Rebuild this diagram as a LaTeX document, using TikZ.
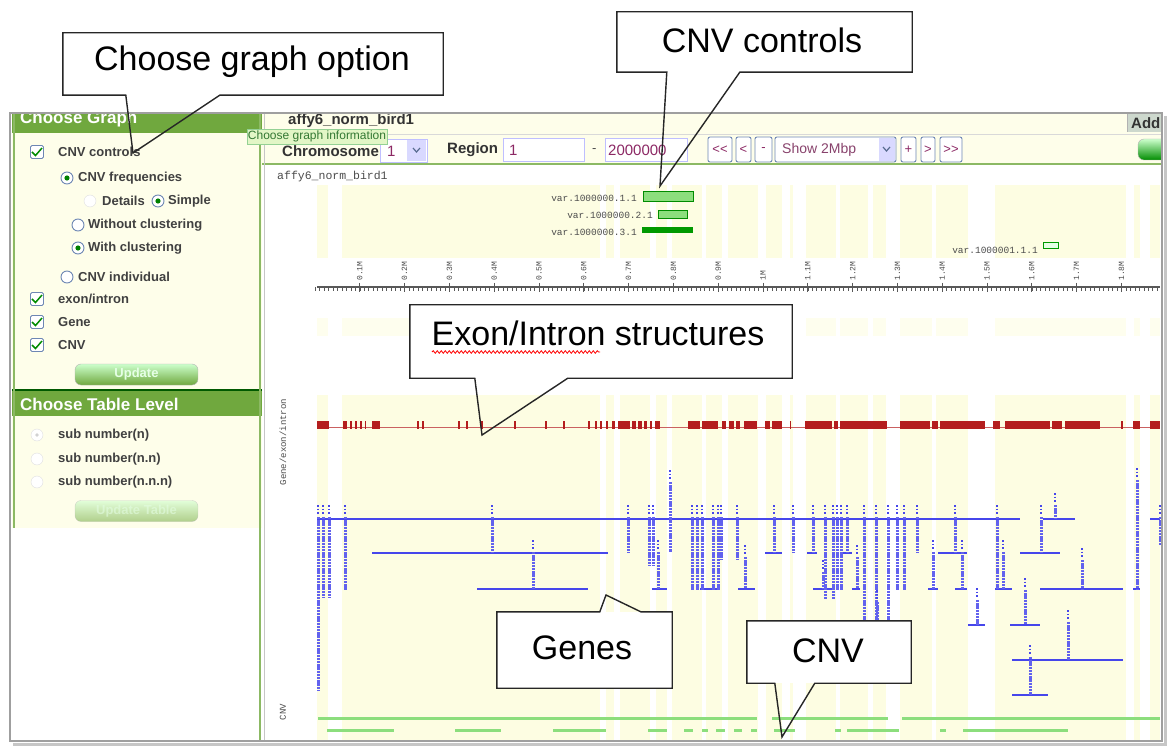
\documentclass[tikz,border=0pt]{standalone}
\usepackage{fontspec}
\setmainfont{Liberation Sans}
\setmonofont{Liberation Mono}
\usetikzlibrary{positioning,decorations.pathmorphing}

\definecolor{panelbg}{RGB}{254,254,234}
\definecolor{stripe}{RGB}{253,253,226}
\definecolor{hdrgreen}{RGB}{112,168,62}
\definecolor{edgegreen}{RGB}{140,185,100}
\definecolor{exonred}{RGB}{180,30,30}
\definecolor{geneblue}{RGB}{70,70,235}
\definecolor{cnvgreen}{RGB}{140,222,125}
\definecolor{boxblue}{RGB}{110,135,180}
\definecolor{tipgreen}{RGB}{226,246,198}
\definecolor{inkpurple}{RGB}{140,40,100}

\begin{document}
\begin{tikzpicture}[x=1pt, y=-1pt,
  ui/.style={anchor=west, inner sep=0pt, text=black!75,
             font=\bfseries\fontsize{13}{15}\selectfont},
  hdr/.style={anchor=west, inner sep=0pt, text=white,
              font=\bfseries\fontsize{17}{19}\selectfont},
  bar/.style={anchor=west, inner sep=0pt, text=black!80,
              font=\bfseries\fontsize{15}{17}\selectfont},
  mono/.style={inner sep=0pt, text=black!70, font=\ttfamily\fontsize{9.5}{11}\selectfont},
  chk/.style={draw=boxblue, fill=white, rounded corners=1.5pt, minimum size=13pt,
              inner sep=0pt, line width=0.9pt},
  radio/.style={circle, draw=boxblue, fill=white, minimum size=12pt, inner sep=0pt,
                line width=0.9pt},
  faint/.style={circle, draw=gray!25, fill=white, minimum size=12pt, inner sep=0pt},
  btn/.style={draw=gray!60, rounded corners=6pt, top color=green!20!white,
              bottom color=hdrgreen, text=white!90!green,
              font=\bfseries\fontsize{13}{15}\selectfont,
              minimum width=123pt, minimum height=21pt, inner sep=0pt},
  field/.style={draw=blue!25, fill=white, line width=0.8pt},
  nav/.style={draw=boxblue, fill=white, rounded corners=2pt, line width=0.9pt},
  navtxt/.style={inner sep=0pt, text=inkpurple, font=\fontsize{13}{15}\selectfont},
  callbox/.style={fill=white, inner sep=0pt},
  calltext/.style={inner sep=0pt, font=\fontsize{34}{38}\selectfont},
  callline/.style={draw=black!85, line width=1.4pt, line join=miter},
  gtext/.style={geneblue!85, line width=3pt, dash pattern=on 2.4pt off 0.8pt},
  gdots/.style={geneblue, line width=1.8pt, dash pattern=on 1.8pt off 1.8pt},
  gline/.style={geneblue, line width=1.2pt},
  cnvline/.style={cnvgreen, line width=3pt}
]
\useasboundingbox (0,0) rectangle (1171,746);
\fill[white] (0,0) rectangle (1171,746);

% yellow stripes of the track view
\foreach \a/\b in {317/328, 342/600, 606/614, 620/650, 656/667, 672/702, 706/722,
                   728/758, 766/782, 790/793, 806/836, 840/868, 873/886, 900/932,
                   936/968, 995/1126, 1134/1140, 1150/1160} {
  \fill[stripe] (\a,185) rectangle (\b,258);
  \fill[stripe!60] (\a,318) rectangle (\b,336);
  \fill[stripe] (\a,395) rectangle (\b,740);
}

% CNV controls track
\node[mono, anchor=east] (var11) at (637,198) {var.1000000.1.1};
\node[mono, anchor=east] (var21) at (653,215) {var.1000000.2.1};
\node[mono, anchor=east] (var31) at (637,232) {var.1000000.3.1};
\node[mono, anchor=east] (var41) at (1038,250) {var.1000001.1.1};
\draw[green!55!black, fill=cnvgreen] (643,191) rectangle (693,201);
\draw[green!55!black, fill=cnvgreen] (658,210) rectangle (687,218);
\fill[green!60!black] (642,227) rectangle (693,233);
\draw[green!60!black, fill=green!10] (1043,242) rectangle (1058,248);

% ruler
\draw[gray!70!black, line width=1.4pt] (317,287) -- (1160,287);
\foreach \i in {0,...,188}
  \draw[gray!70!black, line width=0.6pt] (315+4.48*\i,287) -- (315+4.48*\i,291);
\foreach \i in {1,...,18}
  \draw[gray!70!black, line width=0.8pt] (315+44.8*\i,283) -- (315+44.8*\i,292);
\foreach \i in {1,...,9}
  \node[mono, rotate=90, anchor=west, font=\ttfamily\fontsize{8}{9}\selectfont]
    (rul\i) at (315+44.8*\i,281) {0.\i M};
\node[mono, rotate=90, anchor=west, font=\ttfamily\fontsize{8}{9}\selectfont]
  (rul10) at (763,281) {1M};
\foreach \i in {1,...,8}
  \node[mono, rotate=90, anchor=west, font=\ttfamily\fontsize{8}{9}\selectfont]
    (rulb\i) at (763+44.8*\i,281) {1.\i M};

% exon / intron track
\node[mono, rotate=90, font=\ttfamily\fontsize{9}{10}\selectfont] (trkgene) at (283,442) {Gene/exon/intron};
\draw[exonred!70, line width=1pt] (317,427) -- (1160,427);
\foreach \a/\b in {317/329, 343/347, 350/352, 355/357, 360/362, 365/366, 372/380,
                   417/419, 422/424, 458/460, 466/468, 481/483, 514/516, 545/547,
                   563/565, 588/590, 595/597, 600/602, 606/608, 612/615, 618/630,
                   632/636, 638/642, 644/647, 650/652, 655/660, 688/700, 702/718,
                   722/726, 729/734, 736/740, 744/757, 765/770, 772/782, 790/791,
                   805/832, 834/838, 840/887, 900/930, 932/938, 940/985, 993/1000,
                   1005/1050, 1052/1062, 1065/1100, 1121/1123, 1133/1140, 1150/1160}
  \fill[exonred] (\a,421) rectangle (\b,429);

% gene track
\foreach \y/\a/\b in {519/317/1020, 519/1043/1075, 519/1150/1160,
                      553/372/608, 553/765/782, 553/807/817, 553/840/852,
                      553/938/967, 553/1020/1060,
                      589/477/588, 589/652/667, 589/700/717, 589/738/755,
                      589/813/833, 589/852/860, 589/928/938, 589/955/967,
                      589/995/1012, 589/1040/1123, 589/1133/1140,
                      625/867/883, 625/968/985, 625/1010/1040,
                      660/1012/1123, 695/1012/1048}
  \draw[gline] (\a,\y) -- (\b,\y);
\foreach \x/\t/\b in {318/505/690, 323/505/598, 329/505/598, 345/505/590,
                      492/505/553, 628/505/553, 649/505/566, 653/505/566,
                      692/505/590, 697/505/590, 702/505/590, 713/505/590,
                      718/505/590, 721/505/560, 737/505/560, 774/505/553,
                      793/505/553, 813/505/553, 825/505/600, 833/505/600,
                      837/505/590, 841/505/590, 847/505/553, 864/505/625,
                      876/505/625, 888/505/625, 897/505/590, 904/505/590,
                      917/505/553, 955/505/553, 997/505/589, 1041/505/553,
                      1160/505/545, 670/470/552, 1055/493/518, 1137/468/590,
                      533/540/589, 658/540/589, 745/545/589, 823/560/589,
                      857/545/589, 933/540/589, 962/540/589, 1003/540/589,
                      1082/548/589, 877/590/625, 977/588/625, 1025/578/625,
                      1068/610/660, 1030/645/695} {
  \draw[gdots] (\x,\t) -- (\x,\t+10);
  \draw[gtext] (\x,\t+12) -- (\x,\b);
}

% CNV track
\node[mono, rotate=90, font=\ttfamily\fontsize{9}{10}\selectfont] (trkcnv) at (283,712) {CNV};
\foreach \a/\b in {318/757, 772/888, 902/1160}
  \draw[cnvline] (\a,718) -- (\b,718);
\foreach \a/\b in {327/394, 455/501, 553/606, 648/667, 684/693, 702/708, 716/725,
                   734/742, 751/757, 774/795, 835/841, 847/899, 940/946, 963/1068}
  \draw[cnvline] (\a,730) -- (\b,730);

% top bars of the right panel
\fill[panelbg] (262,113) rectangle (1162,163);
\draw[gray!30] (262,134) -- (1162,134);
\draw[edgegreen, line width=2.5pt] (262,164) -- (1162,164);
\begin{scope}
  \clip (262,113) rectangle (1162,134);
  \node[bar] (titletop) at (288,121) {affy6\_norm\_bird1};
  \fill[green!12!gray!35] (1127,113) rectangle (1162,132);
  \draw[gray!60] (1127,113) -- (1127,132);
  \node[bar] (addtab) at (1131,123) {Add};
\end{scope}
\node[bar] (lblchr) at (282,151) {Chromosome};
\draw[field] (380,139) rectangle (427,162);
\fill[blue!15] (407,140) rectangle (426,161);
\draw[boxblue!80!black, line width=1.2pt] (413,148) -- (416.5,152) -- (420,148);
\node[navtxt, anchor=west, font=\fontsize{15}{17}\selectfont] (chrval) at (387,151) {1};
\node[bar] (lblreg) at (447,150) {Region};
\draw[field] (503,138) rectangle (584,161);
\node[navtxt, anchor=west, font=\fontsize{15}{17}\selectfont] (regfrom) at (509,150) {1};
\node[navtxt, anchor=west, text=black!70] (regdash) at (592,151) {-};
\draw[field] (605,138) rectangle (687,161);
\node[navtxt, anchor=west, font=\fontsize{15}{17}\selectfont] (regto) at (608,150) {2000000};
\foreach \a/\b/\t/\nm in {708/732/{\mbox{<}\mbox{<}}/navfirst, 736/751/{<}/navprev,
                          755/772/{-}/navout, 901/916/{+}/navin,
                          921/935/{>}/navnext, 940/962/{\mbox{>}\mbox{>}}/navlast} {
  \draw[nav] (\a,137) rectangle (\b,162);
  \node[navtxt] (\nm) at ({(\a+\b)/2},149.5) {\t};
}
\draw[nav] (775,137) rectangle (896,162);
\fill[blue!15] (879,138) rectangle (895,161);
\draw[boxblue!80!black, line width=1.2pt] (883,147) -- (886.5,151) -- (890,147);
\node[navtxt, anchor=west, text=inkpurple!70!gray, font=\fontsize{14}{16}\selectfont] (showsel) at (782,150) {Show 2Mbp};
\begin{scope}
  \clip (262,113) rectangle (1162,742);
  \shade[top color=green!20!white, bottom color=green!55!black, rounded corners=6pt,
         draw=gray!60] (1138,139) rectangle (1180,160);
\end{scope}
\node[mono, anchor=west, font=\ttfamily\fontsize{11.5}{13}\selectfont] (titletrk) at (277,177) {affy6\_norm\_bird1};

% left panel
\fill[panelbg] (12,113) rectangle (262,528);
\fill[hdrgreen] (12,113) rectangle (262,133);
\fill[hdrgreen] (12,391) rectangle (262,416);
\draw[green!35!black, line width=1.5pt] (12,390) -- (262,390);
\begin{scope}
  \clip (12,113) rectangle (262,133);
  \node[hdr] (hdrgraph) at (20,119) {Choose Graph};
\end{scope}
\node[hdr] (hdrtable) at (20,404) {Choose Table Level};
\draw[edgegreen, line width=2pt] (14,113) -- (14,528);
\draw[edgegreen, line width=2pt] (260,113) -- (260,742);
\draw[gray!45, line width=1pt] (264,113) -- (264,742);

\foreach \y/\nm in {152/cbctrl, 299/cbexon, 322/cbgene, 345/cbcnv} {
  \node[chk] (\nm) at (37,\y) {};
  \draw[green!55!black, line width=1.5pt] (32,\y) -- (35.5,\y+3.5) -- (42,\y-4);
}
\foreach \x/\y/\nm in {67/178/rdfreq, 158/201/rdsimp, 78/248/rdwith} {
  \node[radio] (\nm) at (\x,\y) {};
  \fill[green!50!black] (\x,\y) circle (2.6pt);
}
\node[radio] (rdwo) at (78,225) {};
\node[radio] (rdind) at (67,277) {};
\node[faint] (rddet) at (90,201) {};
\node[faint] (rdn) at (37,435) {};
\fill[gray!35] (37,435) circle (1.8pt);
\node[faint] (rdnn) at (37,459) {};
\node[faint] (rdnnn) at (37,482) {};

\node[ui] (lblctrl) at (58,152) {CNV controls};
\node[ui] (lblfreq) at (78,178) {CNV frequencies};
\node[ui] (lbldet) at (102,201) {Details};
\node[ui] (lblsimp) at (168,201) {Simple};
\node[ui] (lblwo) at (88,225) {Without clustering};
\node[ui] (lblwith) at (88,248) {With clustering};
\node[ui] (lblind) at (78,277) {CNV individual};
\node[ui] (lblexon) at (58,299) {exon/intron};
\node[ui] (lblgene) at (58,322) {Gene};
\node[ui] (lblcnv) at (58,345) {CNV};
\node[btn] (btnupd) at (136.5,374.5) {Update};
\node[ui] (lbln) at (58,435) {sub number(n)};
\node[ui] (lblnn) at (58,459) {sub number(n.n)};
\node[ui] (lblnnn) at (58,482) {sub number(n.n.n)};
\node[btn, opacity=0.55] (btntab) at (136.5,511) {Update Table};

% tooltip
\node[draw=green!40!gray!60, fill=tipgreen, inner sep=0pt, minimum width=140pt,
      minimum height=15pt, text=black!55!green!60!gray,
      font=\fontsize{12}{13}\selectfont] (tooltip) at (317,136.5) {Choose graph information};

% outer frame of the screenshot
\draw[gray!75, line width=1.2pt] (10,113) rectangle (1162,741);
\draw[gray!45, line width=3pt] (1165,116) -- (1165,744) -- (13,744);

% callouts
\node[callbox, minimum width=380pt, minimum height=62pt] (optbox) at (253,64) {};
\node[calltext] (opttext) at (252,62) {Choose graph option};
\coordinate (opttip) at (133,153);
\draw[callline] ([xshift=63pt]optbox.south west) -- (optbox.south west)
  -- (optbox.north west) -- (optbox.north east) -- (optbox.south east)
  -- ([xshift=157pt]optbox.south west) -- (opttip) -- cycle;

\node[callbox, minimum width=295pt, minimum height=60pt] (ctrlbox) at (764.5,42) {};
\node[calltext] (ctrltext) at (762,40) {CNV controls};
\coordinate (ctrltip) at (660,186);
\draw[callline] ([xshift=50pt]ctrlbox.south west) -- (ctrlbox.south west)
  -- (ctrlbox.north west) -- (ctrlbox.north east) -- (ctrlbox.south east)
  -- ([xshift=123pt]ctrlbox.south west) -- (ctrltip) -- cycle;

\node[callbox, minimum width=382pt, minimum height=73pt] (exonbox) at (601,341.5) {};
\node[calltext] (exontext) at (598,333) {Exon/Intron structures};
\draw[red, line width=0.8pt, decorate,
      decoration={snake, amplitude=1.3pt, segment length=4pt}] (432,352) -- (600,352);
\coordinate (exontip) at (482,435);
\draw[callline] ([xshift=65pt]exonbox.south west) -- (exonbox.south west)
  -- (exonbox.north west) -- (exonbox.north east) -- (exonbox.south east)
  -- ([xshift=158pt]exonbox.south west) -- (exontip) -- cycle;

\node[callbox, minimum width=175pt, minimum height=76pt] (genebox) at (584.5,650) {};
\node[calltext] (genetext) at (582,648) {Genes};
\coordinate (genetip) at (606,595);
\draw[callline] ([xshift=103pt]genebox.north west) -- (genebox.north west)
  -- (genebox.south west) -- (genebox.south east) -- (genebox.north east)
  -- ([xshift=144pt]genebox.north west) -- (genetip) -- cycle;

\node[callbox, minimum width=164pt, minimum height=62pt] (cnvbox) at (829,652) {};
\node[calltext] (cnvtext) at (828,651) {CNV};
\coordinate (cnvtip) at (782,737);
\draw[callline] ([xshift=28pt]cnvbox.south west) -- (cnvbox.south west)
  -- (cnvbox.north west) -- (cnvbox.north east) -- (cnvbox.south east)
  -- ([xshift=68pt]cnvbox.south west) -- (cnvtip) -- cycle;
\end{tikzpicture}
\end{document}
